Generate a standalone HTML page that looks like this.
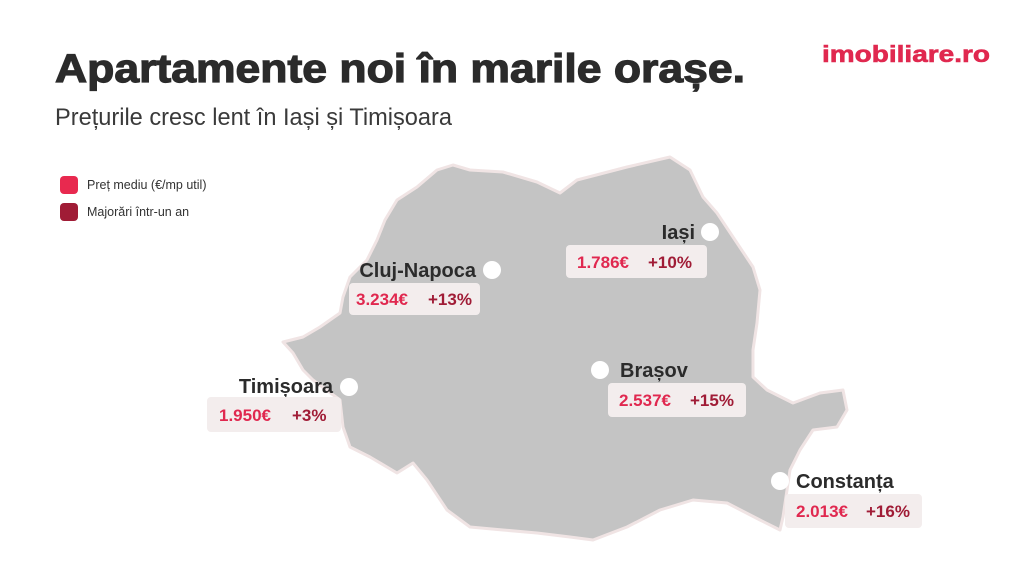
<!DOCTYPE html>
<html><head><meta charset="utf-8"><style>
html,body{margin:0;padding:0;background:#fff;}
svg{display:block;font-family:"Liberation Sans",sans-serif;}
</style></head><body>
<svg width="1024" height="576" viewBox="0 0 1024 576" xmlns="http://www.w3.org/2000/svg">
<rect width="1024" height="576" fill="#fff"/>
<text x="55" y="82" font-size="40" font-weight="bold" fill="#2b2b2b" stroke="#2b2b2b" stroke-width="1.2" textLength="690" lengthAdjust="spacingAndGlyphs">Apartamente noi în marile orașe.</text>
<text x="55" y="125" font-size="24" fill="#3a3a3a" textLength="397" lengthAdjust="spacingAndGlyphs">Prețurile cresc lent în Iași și Timișoara</text>
<text x="822" y="62" font-size="23" font-weight="bold" fill="#e0284f" stroke="#e0284f" stroke-width="0.6" textLength="168" lengthAdjust="spacingAndGlyphs">imobiliare.ro</text>
<rect x="60" y="176" width="18" height="18" rx="4" fill="#e8294f"/>
<rect x="60" y="203" width="18" height="18" rx="4" fill="#a01c36"/>
<text x="87" y="189" font-size="12.5" fill="#333">Preț mediu (€/mp util)</text>
<text x="87" y="216" font-size="12.5" fill="#333">Majorări într-un an</text>
<path d="M453,165 L470,170 L503,172 L537,182 L560,193 L577,180 L627,167 L670,157 L690,170 L703,197 L717,213 L733,237 L753,267 L760,290 L757,323 L753,350 L753,377 L767,390 L793,403 L820,393 L843,390 L847,410 L837,427 L813,430 L800,450 L790,470 L787,490 L783,517 L780,530 L760,520 L727,503 L693,500 L660,510 L627,527 L593,540 L570,537 L537,533 L503,530 L470,527 L447,510 L427,480 L413,463 L397,473 L370,457 L350,447 L343,427 L340,400 L313,380 L303,370 L293,353 L283,342 L303,337 L320,327 L340,313 L343,297 L350,277 L367,260 L377,240 L385,220 L397,200 L417,187 L437,170 Z" fill="#c4c4c4" stroke="#f0e4e4" stroke-width="3" stroke-linejoin="round"/>
<g font-weight="bold">
<circle cx="492" cy="270" r="9" fill="#fff"/>
<text x="476" y="277" font-size="20" fill="#2b2b2b" text-anchor="end">Cluj-Napoca</text>
<rect x="349" y="283" width="131" height="32" rx="4" fill="#f3eded"/>
<text x="356" y="305" font-size="17" fill="#e0284f">3.234€</text><text x="428" y="305" font-size="17" fill="#a01c36">+13%</text>

<circle cx="349" cy="387" r="9" fill="#fff"/>
<text x="333" y="393" font-size="20" fill="#2b2b2b" text-anchor="end">Timișoara</text>
<rect x="207" y="397" width="134" height="35" rx="4" fill="#f3eded"/>
<text x="219" y="421" font-size="17" fill="#e0284f">1.950€</text><text x="292" y="421" font-size="17" fill="#a01c36">+3%</text>

<circle cx="710" cy="232" r="9" fill="#fff"/>
<text x="695" y="239" font-size="20" fill="#2b2b2b" text-anchor="end">Iași</text>
<rect x="566" y="245" width="141" height="33" rx="4" fill="#f3eded"/>
<text x="577" y="268" font-size="17" fill="#e0284f">1.786€</text><text x="648" y="268" font-size="17" fill="#a01c36">+10%</text>

<circle cx="600" cy="370" r="9" fill="#fff"/>
<text x="620" y="377" font-size="20" fill="#2b2b2b">Brașov</text>
<rect x="608" y="383" width="138" height="34" rx="4" fill="#f3eded"/>
<text x="619" y="406" font-size="17" fill="#e0284f">2.537€</text><text x="690" y="406" font-size="17" fill="#a01c36">+15%</text>

<circle cx="780" cy="481" r="9" fill="#fff"/>
<text x="796" y="488" font-size="20" fill="#2b2b2b">Constanța</text>
<rect x="785" y="494" width="137" height="34" rx="4" fill="#f3eded"/>
<text x="796" y="517" font-size="17" fill="#e0284f">2.013€</text><text x="866" y="517" font-size="17" fill="#a01c36">+16%</text>
</g>
</svg>
</body></html>
